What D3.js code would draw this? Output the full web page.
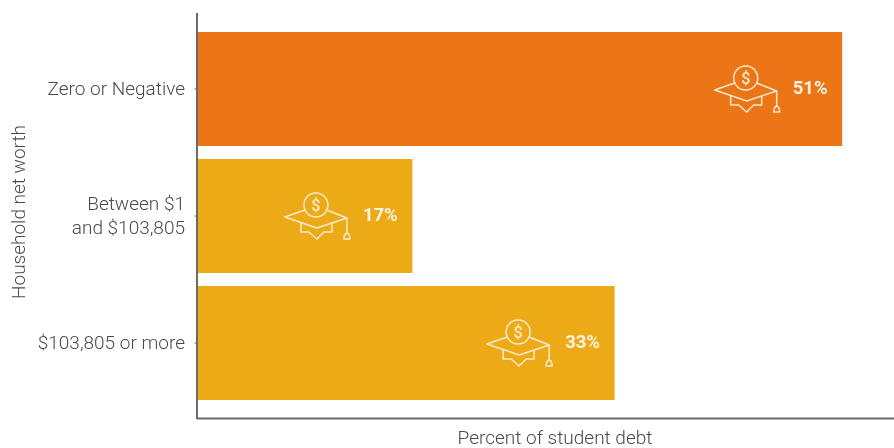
<!DOCTYPE html>
<html><head><meta charset="utf-8">
<script src="https://cdn.jsdelivr.net/npm/d3@7"></script>
<style>
html,body{margin:0;padding:0;background:#fff;overflow:hidden}
svg{display:block;filter:blur(0.45px)}
text{font-family:Roboto,sans-serif}
</style></head><body><svg id="c" width="894" height="448"></svg>
<script>
const categories = ["Zero or Negative", "Between $1|and $103,805", "$103,805 or more"];
const values = [51, 17, 33];
const colors = ["#ec7516", "#ecaa17", "#ecaa17"];
const xTitle = "Percent of student debt";
const yTitle = "Household net worth";

const svg = d3.select("#c");
const x = d3.scaleLinear().domain([0, 55.1]).range([197.5, 894]);
const y = d3.scaleBand().domain(categories).range([32, 400]).paddingInner(13 / 127).paddingOuter(0);

// bars
svg.selectAll("rect.bar").data(values).join("rect").attr("class", "bar")
  .attr("x", x(0)).attr("y", (d, i) => y(categories[i]))
  .attr("width", d => x(d) - x(0)).attr("height", y.bandwidth())
  .attr("fill", (d, i) => colors[i]);

// axes
const axisColor = "#6a6a6a";
const gy = svg.append("g").attr("transform", `translate(${x(0)},0)`)
  .call(d3.axisLeft(y).tickSize(3).tickFormat(""));
gy.select(".domain").remove();
gy.selectAll("line").attr("stroke", axisColor);
svg.append("line").attr("x1", x(0) - 0.5).attr("x2", x(0) - 0.5).attr("y1", 13).attr("y2", 419)
  .attr("stroke", axisColor).attr("stroke-width", 2);
svg.append("line").attr("x1", x(0) - 1).attr("x2", 894).attr("y1", 418.5).attr("y2", 418.5)
  .attr("stroke", axisColor).attr("stroke-width", 1.8);

// category labels
categories.forEach(c => {
  const lines = c.split("|");
  const mid = y(c) + y.bandwidth() / 2;
  const t = svg.append("text").attr("text-anchor", "end").attr("font-size", 19)
    .attr("font-weight", 300).attr("fill", "#4a4a4a");
  lines.forEach((l, i) => t.append("tspan").attr("x", 185)
    .attr("y", mid + 5.5 + (i - (lines.length - 1) / 2) * 24).text(l));
});

// axis titles
svg.append("text").attr("x", 555).attr("y", 443.5).attr("text-anchor", "middle")
  .attr("font-size", 19).attr("font-weight", 300).attr("fill", "#4a4a4a").text(xTitle);
svg.append("text").attr("transform", "translate(25,212) rotate(-90)").attr("text-anchor", "middle")
  .attr("font-size", 19).attr("font-weight", 300).attr("fill", "#4a4a4a").text(yTitle);

// graduation-cap icons and value labels
values.forEach((v, i) => {
  const mid = y(categories[i]) + y.bandwidth() / 2;
  const g = svg.append("g")
    .attr("transform", `translate(${x(v) - 96.5},${mid - 1})`)
    .attr("fill", "none").attr("stroke", "#fbe9d0").attr("stroke-width", 1.5).attr("stroke-linejoin", "round");
  g.append("circle").attr("cx", 0).attr("cy", -10).attr("r", 12);
  g.append("path").attr("d", "M-11,-5 L-31,2 L1,13 L31,3 L11,-5");
  g.append("path").attr("d", "M-15,8 V17 L-7,17 L1,24 L8,17 L16,17 V8");
  g.append("path").attr("d", "M31,3 V18");
  g.append("path").attr("d", "M28,24 Q28,19 31,18 Q34,19 34,24 Z").attr("stroke-width", 1.4);
  g.append("text").attr("x", 0).attr("y", -4.5).attr("text-anchor", "middle")
    .attr("font-size", 16).attr("font-weight", 500).attr("fill", "#fbe9d0").attr("stroke", "none").text("$");
  svg.append("text").attr("x", x(v) - 49.5).attr("y", mid + 5)
    .attr("font-size", 18.5).attr("font-weight", 700).attr("fill", "#fdf3e6").text(v + "%");
});
</script></body></html>
